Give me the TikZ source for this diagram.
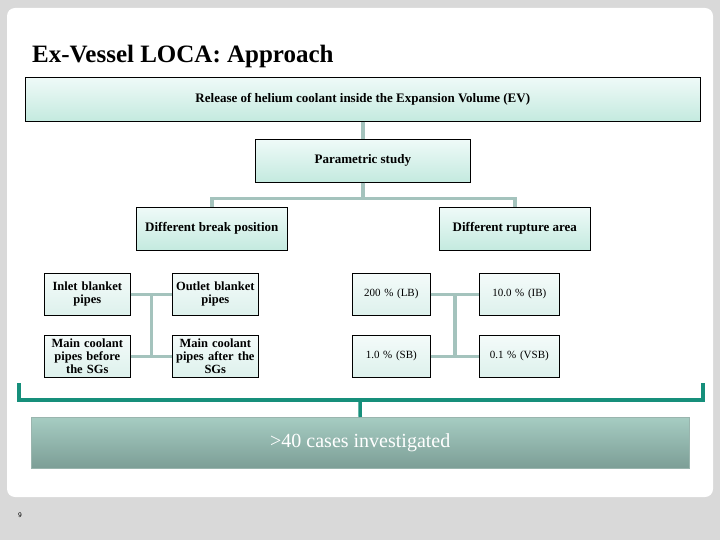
\documentclass[tikz,border=0pt]{standalone}
\usepackage{fontspec}
\setmainfont{Liberation Serif}
\usetikzlibrary{calc}
\usetikzlibrary{positioning}
\tikzset{>=latex}

\definecolor{pagegray}{HTML}{D9D9D9}
\definecolor{boxtop}{HTML}{EFFAF8}
\definecolor{boxbot}{HTML}{C4EADF}
\definecolor{casetop}{HTML}{F4FBFA}
\definecolor{casebot}{HTML}{DDF1EC}
\definecolor{linkgray}{HTML}{A4C3BD}
\definecolor{bracegreen}{HTML}{168F7B}
\definecolor{sumtop}{HTML}{A6CCC2}
\definecolor{sumbot}{HTML}{7C9E96}

\tikzset{
  stepbox/.style={draw=black, line width=0.6pt, top color=boxtop, bottom color=boxbot,
    font=\bfseries\fontsize{13}{14}\selectfont, align=center, inner sep=1pt, anchor=north west},
  casebox/.style={draw=black, line width=0.6pt, top color=casetop, bottom color=casebot,
    font=\bfseries\fontsize{12.5}{13}\selectfont, align=center, inner sep=0pt, anchor=north west,
    minimum height=42, text width=86},
  areabox/.style={casebox, font=\fontsize{11}{12}\selectfont},
  link/.style={draw=linkgray, line width=3.5pt},
  brace/.style={draw=bracegreen, line width=3.5pt}
}

\begin{document}
\begin{tikzpicture}[x=1pt, y=-1pt]
    \useasboundingbox (0,0) rectangle (720,540);
    \fill[pagegray] (0,0) rectangle (720,540);
    \fill[white, rounded corners=8pt] (7,8) rectangle (713,497);

    \node[anchor=west, inner sep=0pt, font=\bfseries\fontsize{25}{27}\selectfont] (title) at (32,56) {Ex-Vessel LOCA: Approach};

    % top of the tree
    \node[stepbox, minimum width=675, minimum height=44] (release) at (25,77)
        {Release of helium coolant inside the Expansion Volume (EV)};
    \node[stepbox, minimum width=215, minimum height=43] (param) at (255,139) {Parametric study};
    \node[stepbox, minimum width=151, minimum height=43] (breakpos) at (136,207) {Different break position};
    \node[stepbox, minimum width=151, minimum height=43] (rupture) at (439,207) {Different rupture area};

    % break positions
    \node[casebox] (inlet) at (44,273) {Inlet blanket\\pipes};
    \node[casebox] (outlet) at (172,273) {Outlet blanket\\pipes};
    \node[casebox] (before) at (44,335) {Main coolant\\pipes before\\the SGs};
    \node[casebox] (after) at (172,335) {Main coolant\\pipes after the\\SGs};

    % rupture areas
    \node[areabox, text width=78] (lb) at (352,273) {200 \% (LB)};
    \node[areabox, text width=80] (ib) at (479,273) {10.0 \% (IB)};
    \node[areabox, text width=78] (sb) at (352,335) {1.0 \% (SB)};
    \node[areabox, text width=80] (vsb) at (479,335) {0.1 \% (VSB)};

    \draw[link] (release.south) -- (param.north);
    \draw[link] (param.south) -- ++(0,16) -| (breakpos.north);
    \draw[link] (param.south) -- ++(0,16) -| (rupture.north);

    \draw[link] (inlet.east) -- (outlet.west);
    \draw[link] (before.east) -- (after.west);
    \draw[link] ($(inlet.east)!.5!(outlet.west)$ |- breakpos.south) -- ($(before.east)!.5!(after.west)$);
    \draw[link] (lb.east) -- (ib.west);
    \draw[link] (sb.east) -- (vsb.west);
    \draw[link] ($(lb.east)!.5!(ib.west)$ |- rupture.south) -- ($(sb.east)!.5!(vsb.west)$);

    % summary
    \node[anchor=north west, draw=sumtop!70!gray, line width=0.5pt, top color=sumtop, bottom color=sumbot,
        minimum width=658, minimum height=51, text=white, font=\fontsize{20}{22}\selectfont] (summary) at (31,417)
        {>40 cases investigated};

    \coordinate (braceL) at (19,383);
    \coordinate (braceR) at (703,383);
    \coordinate (braceM) at (360,400);
    \draw[brace] (braceL) |- (braceM) -| (braceR);
    \draw[brace] (braceM) -- (summary.north);

    \node[font=\sffamily\fontsize{7}{8}\selectfont] (pageno) at (20,515) {9};
\end{tikzpicture}
\end{document}
